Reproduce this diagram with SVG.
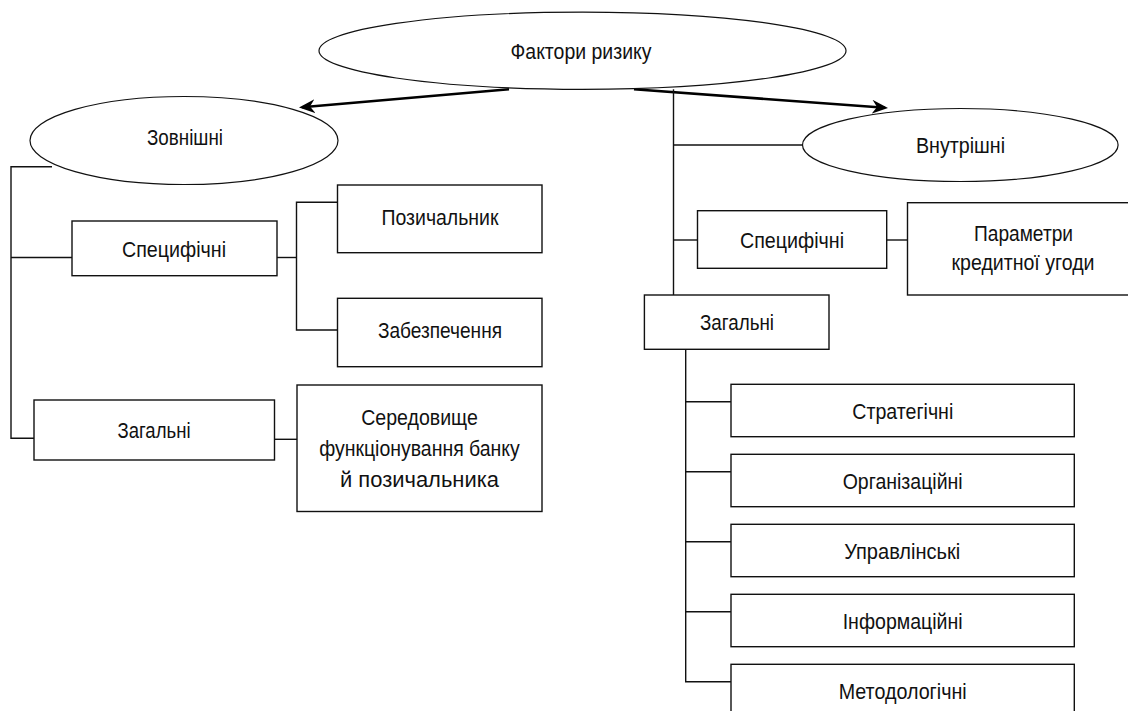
<svg xmlns="http://www.w3.org/2000/svg" width="1128" height="711" viewBox="0 0 1128 711">
<style>
.shape{fill:#fff;stroke:#111;stroke-width:1.4}
.ell{fill:#fff;stroke:#111;stroke-width:1.2}
.ln{fill:none;stroke:#111;stroke-width:1.4}
.arr{fill:none;stroke:#000;stroke-width:2.6}
text{font-family:"Liberation Sans",Arial,sans-serif;font-size:22px;fill:#111;text-anchor:middle}
</style>
<defs>
<marker id="ah" viewBox="0 0 16 14" refX="13" refY="7" markerWidth="16" markerHeight="14" markerUnits="userSpaceOnUse" orient="auto">
<path d="M0,0 L16,7 L0,14 L5,7 Z" fill="#000"/>
</marker>
</defs>
<rect width="1128" height="711" fill="#fff"/>
<g id="connectors">
<line class="arr" x1="509" y1="89.3" x2="302" y2="107.3" marker-end="url(#ah)"/>
<line class="arr" x1="634" y1="89.3" x2="885" y2="107.7" marker-end="url(#ah)"/>
<polyline class="ln" points="52,166.7 11,166.7 11,438.3 34,438.3"/>
<line class="ln" x1="11" y1="257.5" x2="72" y2="257.5"/>
<line class="ln" x1="277" y1="257.5" x2="296.5" y2="257.5"/>
<polyline class="ln" points="337.5,202.3 296.5,202.3 296.5,330 337.5,330"/>
<line class="ln" x1="274.5" y1="439.3" x2="297" y2="439.3"/>
<line class="ln" x1="673.5" y1="89.3" x2="673.5" y2="295"/>
<line class="ln" x1="673.5" y1="145" x2="802.5" y2="145"/>
<line class="ln" x1="673.5" y1="240" x2="697.5" y2="240"/>
<line class="ln" x1="886.7" y1="240" x2="907.5" y2="240"/>
<polyline class="ln" points="685.7,349.3 685.7,681.7 731,681.7"/>
<line class="ln" x1="685.7" y1="401.7" x2="731" y2="401.7"/>
<line class="ln" x1="685.7" y1="471.7" x2="731" y2="471.7"/>
<line class="ln" x1="685.7" y1="541.7" x2="731" y2="541.7"/>
<line class="ln" x1="685.7" y1="611.7" x2="731" y2="611.7"/>
</g>
<g id="n-factors">
<ellipse class="ell" cx="582.5" cy="50.7" rx="263.5" ry="38.6"/>
<text x="581" y="59.3" textLength="141" lengthAdjust="spacingAndGlyphs">Фактори ризику</text>
</g>
<g id="n-external">
<ellipse class="ell" cx="184" cy="140.5" rx="154" ry="44"/>
<text x="185" y="145" textLength="76" lengthAdjust="spacingAndGlyphs">Зовнішні</text>
</g>
<g id="n-internal">
<ellipse class="ell" cx="960.3" cy="145" rx="157.8" ry="36.5"/>
<text x="960.5" y="153" textLength="89" lengthAdjust="spacingAndGlyphs">Внутрішні</text>
</g>
<g id="n-ext-specific">
<rect class="shape" x="72" y="221" width="205" height="54.7"/>
<text x="174" y="256.5" textLength="104" lengthAdjust="spacingAndGlyphs">Специфічні</text>
</g>
<g id="n-borrower">
<rect class="shape" x="337.5" y="185" width="204.5" height="67.7"/>
<text x="440" y="225" textLength="117" lengthAdjust="spacingAndGlyphs">Позичальник</text>
</g>
<g id="n-collateral">
<rect class="shape" x="337.5" y="298.3" width="204.5" height="68.4"/>
<text x="440" y="338" textLength="124" lengthAdjust="spacingAndGlyphs">Забезпечення</text>
</g>
<g id="n-ext-general">
<rect class="shape" x="34" y="400" width="240.5" height="60"/>
<text x="154" y="438" textLength="73" lengthAdjust="spacingAndGlyphs">Загальні</text>
</g>
<g id="n-environment">
<rect class="shape" x="297" y="385" width="245" height="126.5"/>
<text x="419.5" y="425" textLength="116.7" lengthAdjust="spacingAndGlyphs">Середовище</text>
<text x="419.5" y="456" textLength="200.7" lengthAdjust="spacingAndGlyphs">функціонування банку</text>
<text x="419.5" y="487" textLength="159" lengthAdjust="spacingAndGlyphs">й позичальника</text>
</g>
<g id="n-int-specific">
<rect class="shape" x="697.5" y="210.7" width="189.2" height="57.6"/>
<text x="792" y="247.5" textLength="104" lengthAdjust="spacingAndGlyphs">Специфічні</text>
</g>
<g id="n-params">
<rect class="shape" x="907.5" y="202.7" width="232" height="92.3"/>
<text x="1023.5" y="241" textLength="99" lengthAdjust="spacingAndGlyphs">Параметри</text>
<text x="1023" y="270" textLength="143" lengthAdjust="spacingAndGlyphs">кредитної угоди</text>
</g>
<g id="n-int-general">
<rect class="shape" x="644.4" y="295" width="184.6" height="54.3"/>
<text x="737" y="330" textLength="74" lengthAdjust="spacingAndGlyphs">Загальні</text>
</g>
<g id="n-strategic">
<rect class="shape" x="731" y="384.3" width="343.3" height="52.4"/>
<text x="902.8" y="418.5" textLength="101" lengthAdjust="spacingAndGlyphs">Стратегічні</text>
</g>
<g id="n-organizational">
<rect class="shape" x="731" y="454.3" width="343.3" height="52.4"/>
<text x="902.7" y="488.5" textLength="120" lengthAdjust="spacingAndGlyphs">Організаційні</text>
</g>
<g id="n-managerial">
<rect class="shape" x="731" y="524.3" width="343.3" height="52.4"/>
<text x="902.2" y="558.5" textLength="116" lengthAdjust="spacingAndGlyphs">Управлінські</text>
</g>
<g id="n-informational">
<rect class="shape" x="731" y="594.3" width="343.3" height="52.4"/>
<text x="902.7" y="628.5" textLength="120" lengthAdjust="spacingAndGlyphs">Інформаційні</text>
</g>
<g id="n-methodological">
<rect class="shape" x="731" y="664.3" width="343.3" height="52.4"/>
<text x="902.7" y="698.5" textLength="128" lengthAdjust="spacingAndGlyphs">Методологічні</text>
</g>
</svg>
